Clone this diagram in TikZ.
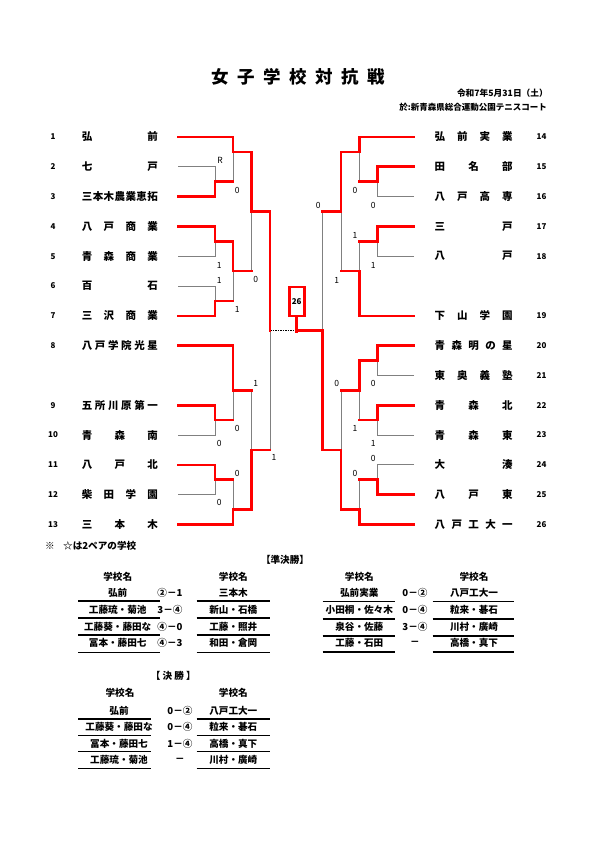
\documentclass[tikz,border=0pt]{standalone}
\usepackage{fontspec}
\setmainfont{Noto Sans CJK JP}
\begin{document}
\begin{tikzpicture}[x=1pt,y=-1pt,
  win/.style={draw=red, line width=2.6pt, line join=miter, line cap=rect},
  lose/.style={draw=black!50, line width=0.8pt},
  nm/.style={font=\bfseries\fontsize{10.5}{12}\selectfont, anchor=west, inner sep=0pt},
  num/.style={font=\bfseries\fontsize{8}{9}\selectfont, inner sep=0pt},
  sc/.style={font=\fontsize{8.5}{9}\selectfont, inner sep=0pt},
  tb/.style={font=\bfseries\fontsize{9.6}{11}\selectfont, inner sep=0pt},
  rul/.style={draw=black, line width=1.3pt}]
\fill[white] (0,0) rectangle (595,842);
\useasboundingbox (0,0) rectangle (595,842);

% title and header
\node[font=\bfseries\fontsize{17.5}{20}\selectfont, anchor=west, inner sep=0pt] (title) at (211.2,77) {\makebox[174pt]{女\hfill 子\hfill 学\hfill 校\hfill 対\hfill 抗\hfill 戦}};
\node[font=\bfseries\fontsize{8.7}{10}\selectfont, anchor=east, inner sep=0pt] (date) at (548,93) {令和7年5月31日（土）};
\node[font=\bfseries\fontsize{8.5}{10}\selectfont, anchor=east, inner sep=0pt] (venue) at (547,107) {於:新青森県総合運動公園テニスコート};

% left numbers and names
\foreach \n/\y in {1/137,2/166.8,3/196.6,4/226.4,5/256.2,6/286,7/315.8,8/345.6,9/405.2,10/435,11/464.8,12/494.6,13/524.4}
  \node[num] (L\n) at (53,\y) {\n};
\node[nm] (ln1) at (81.7,137) {\makebox[76pt]{弘\hfill 前}};
\node[nm] (ln2) at (81.7,166.8) {\makebox[76pt]{七\hfill 戸}};
\node[nm] (ln3) at (81.7,196.6) {\makebox[76pt]{三\hfill 本\hfill 木\hfill 農\hfill 業\hfill 恵\hfill 拓}};
\node[nm] (ln4) at (81.7,226.4) {\makebox[76pt]{八\hfill 戸\hfill 商\hfill 業}};
\node[nm] (ln5) at (81.7,256.2) {\makebox[76pt]{青\hfill 森\hfill 商\hfill 業}};
\node[nm] (ln6) at (81.7,286) {\makebox[76pt]{百\hfill 石}};
\node[nm] (ln7) at (81.7,315.8) {\makebox[76pt]{三\hfill 沢\hfill 商\hfill 業}};
\node[nm] (ln8) at (81.7,345.6) {\makebox[76pt]{八\hfill 戸\hfill 学\hfill 院\hfill 光\hfill 星}};
\node[nm] (ln9) at (81.7,405.2) {\makebox[76pt]{五\hfill 所\hfill 川\hfill 原\hfill 第\hfill 一}};
\node[nm] (ln10) at (81.7,435) {\makebox[76pt]{青\hfill 森\hfill 南}};
\node[nm] (ln11) at (81.7,464.8) {\makebox[76pt]{八\hfill 戸\hfill 北}};
\node[nm] (ln12) at (81.7,494.6) {\makebox[76pt]{柴\hfill 田\hfill 学\hfill 園}};
\node[nm] (ln13) at (81.7,524.4) {\makebox[76pt]{三\hfill 本\hfill 木}};

% right numbers and names
\foreach \n/\y in {14/137,15/166.8,16/196.6,17/226.4,18/256.2,19/315.8,20/345.6,21/375.4,22/405.2,23/435,24/464.8,25/494.6,26/524.4}
  \node[num] (R\n) at (541.5,\y) {\n};
\node[nm] (rn14) at (434.5,137) {\makebox[78pt]{弘\hfill 前\hfill 実\hfill 業}};
\node[nm] (rn15) at (434.5,166.8) {\makebox[78pt]{田\hfill 名\hfill 部}};
\node[nm] (rn16) at (434.5,196.6) {\makebox[78pt]{八\hfill 戸\hfill 高\hfill 専}};
\node[nm] (rn17) at (434.5,226.4) {\makebox[78pt]{三\hfill 戸}};
\node[nm] (rn18) at (434.5,256.2) {\makebox[78pt]{八\hfill 戸}};
\node[nm] (rn19) at (434.5,315.8) {\makebox[78pt]{下\hfill 山\hfill 学\hfill 園}};
\node[nm] (rn20) at (434.5,345.6) {\makebox[78pt]{青\hfill 森\hfill 明\hfill の\hfill 星}};
\node[nm] (rn21) at (434.5,375.4) {\makebox[78pt]{東\hfill 奥\hfill 義\hfill 塾}};
\node[nm] (rn22) at (434.5,405.2) {\makebox[78pt]{青\hfill 森\hfill 北}};
\node[nm] (rn23) at (434.5,435) {\makebox[78pt]{青\hfill 森\hfill 東}};
\node[nm] (rn24) at (434.5,464.8) {\makebox[78pt]{大\hfill 湊}};
\node[nm] (rn25) at (434.5,494.6) {\makebox[78pt]{八\hfill 戸\hfill 東}};
\node[nm] (rn26) at (434.5,524.4) {\makebox[78pt]{八\hfill 戸\hfill 工\hfill 大\hfill 一}};

% bracket lines (y in half-row units)
\begin{scope}[shift={(0,137)}, y=-14.9pt]
% left gray
\draw[lose] (178,2)--(215,2)--(215,3);
\draw[lose] (233,1)--(233,3);
\draw[lose] (178,8)--(215,8)--(215,7);
\draw[lose] (178,10)--(215,10)--(215,11);
\draw[lose] (233,9)--(233,11);
\draw[lose] (251.7,5)--(251.7,9);
\draw[lose] (178,20)--(215,20)--(215,19);
\draw[lose] (233,17)--(233,19);
\draw[lose] (178,24)--(215,24)--(215,23);
\draw[lose] (233,23)--(233,25);
\draw[lose] (251.7,17)--(251.7,21);
\draw[lose] (270,13)--(270,21);
\draw[black, line width=0.7pt, dash pattern=on 1.5pt off 1pt] (270,13)--(296,13);
% right gray
\draw[lose] (322.7,5)--(322.7,13);
\draw[lose] (414,4)--(377.3,4)--(377.3,3);
\draw[lose] (359.3,1)--(359.3,3);
\draw[lose] (414,8)--(377.3,8)--(377.3,7);
\draw[lose] (359.3,7)--(359.3,9);
\draw[lose] (341,5)--(341,9);
\draw[lose] (414,16)--(377.3,16)--(377.3,15);
\draw[lose] (414,20)--(377.3,20)--(377.3,19);
\draw[lose] (359.3,17)--(359.3,19);
\draw[lose] (341,17)--(341,21);
\draw[lose] (414,22)--(377.3,22)--(377.3,23);
\draw[lose] (359.3,23)--(359.3,25);
% left red
\draw[win] (178,0)--(233,0)--(233,1)--(251.7,1)--(251.7,5)--(270,5)--(270,13);
\draw[win] (178,4)--(215,4)--(215,3)--(233,3);
\draw[win] (178,6)--(215,6)--(215,7)--(233,7)--(233,9)--(251.7,9);
\draw[win] (178,12)--(215,12)--(215,11)--(233,11);
\draw[win] (178,14)--(233,14)--(233,17)--(251.7,17);
\draw[win] (178,18)--(215,18)--(215,19)--(233,19);
\draw[win] (178,22)--(215,22)--(215,23)--(233,23);
\draw[win] (178,26)--(233,26)--(233,25)--(251.7,25)--(251.7,21)--(270,21);
% right red
\draw[win] (414,0)--(359.3,0)--(359.3,1)--(341,1)--(341,5)--(322.7,5);
\draw[win] (414,2)--(377.3,2)--(377.3,3)--(359.3,3);
\draw[win] (414,6)--(377.3,6)--(377.3,7)--(359.3,7);
\draw[win] (414,12)--(359.3,12)--(359.3,9)--(341,9);
\draw[win] (414,14)--(377.3,14)--(377.3,15)--(359.3,15)--(359.3,17)--(341,17);
\draw[win] (414,18)--(377.3,18)--(377.3,19)--(359.3,19);
\draw[win] (414,24)--(377.3,24)--(377.3,23)--(359.3,23);
\draw[win] (414,26)--(359.3,26)--(359.3,25)--(341,25)--(341,21)--(322.7,21)--(322.7,13)--(296,13);
\end{scope}

% champion box
\node[draw=red, line width=2.6pt, minimum width=15pt, minimum height=29pt, inner sep=0pt, font=\bfseries\fontsize{8}{9}\selectfont] (champ) at (296.7,301.4) {26};
\draw[win] (champ.south) -- ++(0,14);

% scores left
\node[sc] (s1) at (220,160.7) {R};
\node[sc] (s2) at (237.3,190) {0};
\node[sc] (s3) at (219.3,265) {1};
\node[sc] (s4) at (219.3,280) {1};
\node[sc] (s5) at (255.7,279.3) {0};
\node[sc] (s6) at (237.3,309.3) {1};
\node[sc] (s7) at (255.7,383.3) {1};
\node[sc] (s8) at (237.3,428.3) {0};
\node[sc] (s9) at (219.3,443.3) {0};
\node[sc] (s10) at (274,457.7) {1};
\node[sc] (s11) at (237.3,473.3) {0};
\node[sc] (s12) at (219.3,502.7) {0};
% scores right
\node[sc] (s13) at (318.3,205.7) {0};
\node[sc] (s14) at (355,190.7) {0};
\node[sc] (s15) at (373.3,205) {0};
\node[sc] (s16) at (355,235) {1};
\node[sc] (s17) at (373.3,265) {1};
\node[sc] (s18) at (336.7,280) {1};
\node[sc] (s19) at (336.7,383.3) {0};
\node[sc] (s20) at (373.3,383.3) {0};
\node[sc] (s21) at (355,428.3) {1};
\node[sc] (s22) at (373.3,443.3) {1};
\node[sc] (s23) at (373.3,458.3) {0};
\node[sc] (s24) at (355,473.3) {0};

% note
\node[tb, anchor=west] (note1) at (45,546) {※};
\node[tb, anchor=west] (note2) at (63,546) {☆は2ペアの学校};

% semifinal
\node[tb] (semi) at (285,559.5) {【準決勝】};
% left semifinal table
\node[tb] (a0) at (117.7,577.3) {学校名};
\node[tb] (b0) at (233.3,577.3) {学校名};
\foreach \i/\y/\l/\s/\r in {1/593.3/弘前/②－1/三本木, 2/610/工藤琉・菊池/3－④/新山・石橋, 3/626.7/工藤葵・藤田な/④－0/工藤・照井, 4/643.3/冨本・藤田七/④－3/和田・倉岡}{
  \node[tb] (a\i) at (117.7,\y) {\l};
  \node[tb] (c\i) at (170,\y) {\s};
  \node[tb] (b\i) at (233.3,\y) {\r};
}
\foreach \y in {601,618,635,652.5}{
  \draw[rul] (78.3,\y)--(160,\y);
  \draw[rul] (196.7,\y)--(270,\y);
}
% right semifinal table
\node[tb] (d0) at (359.3,576.5) {学校名};
\node[tb] (e0) at (474,576.5) {学校名};
\foreach \i/\y/\l/\s/\r in {1/593.3/弘前実業/0－②/八戸工大一, 2/610/小田桐・佐々木/0－④/粒来・碁石, 3/626.7/泉谷・佐藤/3－④/川村・廣崎, 4/643.3/工藤・石田/－/高橋・真下}{
  \node[tb] (d\i) at (359.3,\y) {\l};
  \node[tb] (f\i) at (415,\y) {\s};
  \node[tb] (e\i) at (474,\y) {\r};
}
\foreach \y in {601.5,619,636,652}{
  \draw[rul] (322.7,\y)--(395,\y);
  \draw[rul] (432.7,\y)--(514.3,\y);
}

% final
\node[tb] (fin) at (173.3,676) {【\ 決\ 勝\ 】};
\node[tb] (g0) at (120,693.3) {学校名};
\node[tb] (h0) at (233.3,693.3) {学校名};
\foreach \i/\y/\l/\s/\r in {1/710.7/弘前/0－②/八戸工大一, 2/727.3/工藤葵・藤田な/0－④/粒来・碁石, 3/743.7/冨本・藤田七/1－④/高橋・真下, 4/760/工藤琉・菊池/－/川村・廣崎}{
  \node[tb] (g\i) at (119,\y) {\l};
  \node[tb] (k\i) at (180,\y) {\s};
  \node[tb] (h\i) at (233.3,\y) {\r};
}
\foreach \y in {719,735.7,751.7,768.3}{
  \draw[rul] (78.3,\y)--(150.7,\y);
  \draw[rul] (196.7,\y)--(270,\y);
}
\end{tikzpicture}
\end{document}
